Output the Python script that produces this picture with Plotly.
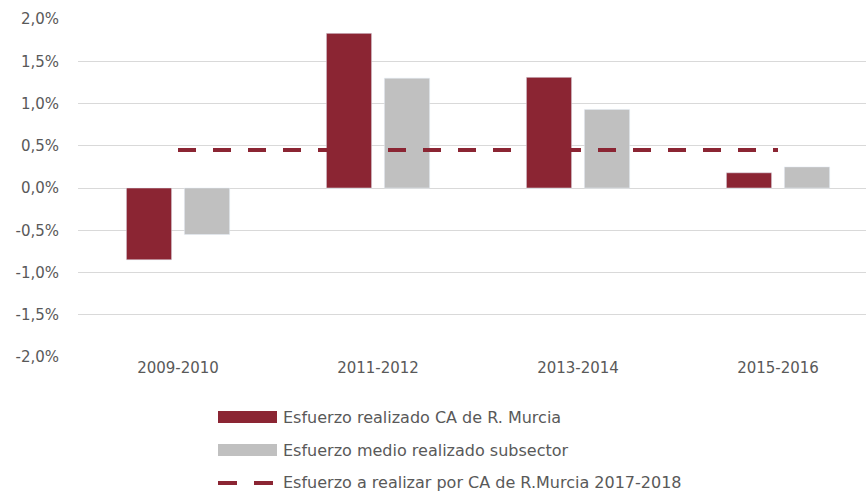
import plotly.graph_objects as go

# Datos
periodos = ["2009-2010", "2011-2012", "2013-2014", "2015-2016"]
esfuerzo_murcia = [-0.85, 1.83, 1.31, 0.18]
esfuerzo_subsector = [-0.55, 1.30, 0.93, 0.25]
esfuerzo_objetivo = [0.45, 0.45, 0.45, 0.45]

y_ticks = [-2.0, -1.5, -1.0, -0.5, 0.0, 0.5, 1.0, 1.5, 2.0]
y_etiquetas = [f"{v:.1f}%".replace(".", ",") for v in y_ticks]

nombres = [
    "Esfuerzo realizado CA de R. Murcia",
    "Esfuerzo medio realizado subsector",
    "Esfuerzo a realizar por CA de R.Murcia 2017-2018",
]

ROJO = "#8B2533"
GRIS = "#C0C0C0"
TEXTO = "#595959"
FUENTE = "DejaVu Sans, sans-serif"

fig = go.Figure()

fig.add_trace(go.Bar(
    x=periodos, y=esfuerzo_murcia, name=nombres[0],
    marker=dict(color=ROJO), showlegend=False,
))
fig.add_trace(go.Bar(
    x=periodos, y=esfuerzo_subsector, name=nombres[1],
    marker=dict(color=GRIS), showlegend=False,
))
fig.add_trace(go.Scatter(
    x=periodos, y=esfuerzo_objetivo, name=nombres[2], mode="lines",
    line=dict(color=ROJO, width=4, dash="18px,17px"), showlegend=False,
))

# Leyenda manual (muestras anchas como en el original)
L, T, W, H = 78, 19, 788, 338


def px_x(p):
    return (p - L) / W


def px_y(p):
    return (T + H - p) / H


filas = [417, 450, 483]
shapes = [
    dict(type="rect", xref="paper", yref="paper",
         x0=px_x(218), x1=px_x(277), y0=px_y(filas[0] + 6), y1=px_y(filas[0] - 6),
         fillcolor=ROJO, line=dict(width=0)),
    dict(type="rect", xref="paper", yref="paper",
         x0=px_x(218), x1=px_x(277), y0=px_y(filas[1] + 6), y1=px_y(filas[1] - 6),
         fillcolor=GRIS, line=dict(width=0)),
    dict(type="line", xref="paper", yref="paper",
         x0=px_x(218), x1=px_x(237), y0=px_y(filas[2]), y1=px_y(filas[2]),
         line=dict(color=ROJO, width=4)),
    dict(type="line", xref="paper", yref="paper",
         x0=px_x(254), x1=px_x(273), y0=px_y(filas[2]), y1=px_y(filas[2]),
         line=dict(color=ROJO, width=4)),
]
annotations = [
    dict(text=n, xref="paper", yref="paper", x=px_x(281), y=px_y(f),
         xanchor="left", yanchor="middle", showarrow=False,
         font=dict(size=16, color=TEXTO, family=FUENTE))
    for n, f in zip(nombres, filas)
]

fig.update_layout(
    width=866, height=495,
    margin=dict(l=L, r=0, t=T, b=495 - T - H),
    plot_bgcolor="white", paper_bgcolor="white",
    barmode="group", bargap=0.42, bargroupgap=0.22,
    font=dict(family=FUENTE, size=15, color=TEXTO),
    shapes=shapes, annotations=annotations,
    showlegend=False,
)
fig.update_xaxes(
    range=[-0.5, 3.44], showgrid=False, showline=False, ticks="",
    tickfont=dict(size=15, color=TEXTO),
)
fig.update_yaxes(
    range=[-2.0, 2.0], tickvals=y_ticks, ticktext=y_etiquetas,
    showgrid=True, gridcolor="#D9D9D9", gridwidth=1,
    zeroline=True, zerolinecolor="#D9D9D9", zerolinewidth=1,
    showline=False, ticks="", ticklabelstandoff=18,
    tickfont=dict(size=15, color=TEXTO),
)

fig.write_html(
    "out.html",
    config={"displayModeBar": False},
    post_script="document.body.style.margin='0';",
)
